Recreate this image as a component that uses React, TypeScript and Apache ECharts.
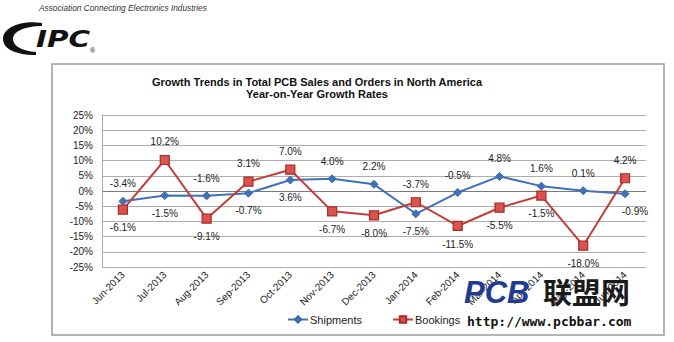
import React, { useEffect, useRef } from "react";
import * as echarts from "echarts";

const categories = [
  "Jun-2013", "Jul-2013", "Aug-2013", "Sep-2013", "Oct-2013", "Nov-2013", "Dec-2013",
  "Jan-2014", "Feb-2014", "Mar-2014", "Apr-2014", "May-2014", "Jun-2014",
];
const shipments = [-3.4, -1.5, -1.6, -0.7, 3.6, 4.0, 2.2, -7.5, -0.5, 4.8, 1.6, 0.1, -0.9];
const bookings = [-6.1, 10.2, -9.1, 3.1, 7.0, -6.7, -8.0, -3.7, -11.5, -5.5, -1.5, -18.0, 4.2];
const shipmentLabelSide = ["top", "bottom", "top", "bottom", "bottom", "top", "top", "bottom", "top", "top", "top", "top", "bottom"];
const bookingLabelSide = ["bottom", "top", "bottom", "top", "top", "bottom", "bottom", "top", "bottom", "bottom", "bottom", "bottom", "top"];
const yTicks = { min: -25, max: 25, interval: 5 };

const SWOOSH = "M42 23 C20 20 3 28 3 39 C3 49 16 55 36 55 L36 52 C22 51 13 46 13 39 C13 31 26 26 42 26 Z";
let registered = false;
function ensureShapes() {
  if (registered) return;
  echarts.graphic.registerShape("ipcSwoosh", (echarts.graphic as any).extendPath(SWOOSH, {}));
  registered = true;
}

const FONT = "Liberation Sans, Arial, sans-serif";

export default function App() {
  const ref = useRef<HTMLDivElement>(null);
  useEffect(() => {
    if (!ref.current) return;
    ensureShapes();
    const chart = echarts.init(ref.current, undefined, { renderer: "svg" });
    const fmt = (v: number) => `${v.toFixed(1)}%`;
    const mk = (vals: number[], sides: string[]) =>
      vals.map((v, i) => ({
        value: v,
        label: {
          position: sides[i],
          offset: i === vals.length - 1 && sides[i] === "bottom" ? [10, 0] : [0, 0],
        },
      }));
    const gridColors = Array.from({ length: 11 }, (_, i) => (i === 5 ? "#7a7a7a" : "#adadad"));
    chart.setOption({
      animation: false,
      backgroundColor: "#ffffff",
      textStyle: { fontFamily: FONT },
      title: {
        text: "Growth Trends in Total PCB Sales and Orders in North America\nYear-on-Year Growth Rates",
        left: 312,
        textAlign: "center",
        top: 71,
        textStyle: { fontFamily: FONT, fontSize: 11, fontWeight: "bold", color: "#111", lineHeight: 12 },
      },
      grid: { left: 102, right: 28, top: 115, bottom: 75, containLabel: false },
      xAxis: {
        type: "category",
        data: categories,
        boundaryGap: true,
        axisLine: { show: false, onZero: false },
        axisTick: { show: false },
        axisLabel: { rotate: 45, fontSize: 10, color: "#222", margin: 6, fontFamily: FONT, interval: 0 },
        splitLine: { show: false },
      },
      yAxis: {
        type: "value",
        min: yTicks.min,
        max: yTicks.max,
        interval: yTicks.interval,
        axisLine: { show: true, lineStyle: { color: "#adadad", width: 1 } },
        axisTick: { show: false },
        axisLabel: { formatter: (v: number) => `${v}%`, fontSize: 10, color: "#222", margin: 9, fontFamily: FONT },
        splitLine: { show: true, lineStyle: { color: gridColors, width: 1.2 } },
      },
      legend: {
        bottom: 12,
        left: 282,
        itemGap: 30,
        itemWidth: 20,
        itemHeight: 8,
        textStyle: { fontSize: 11, color: "#222", fontFamily: FONT, padding: [0, 0, 0, -3] },
        data: ["Shipments", "Bookings"],
      },
      series: [
        {
          name: "Shipments",
          type: "line",
          data: mk(shipments, shipmentLabelSide),
          symbol: "diamond",
          symbolSize: 8,
          z: 3,
          lineStyle: { color: "#3f72b9", width: 2 },
          itemStyle: { color: "#3f72b9", borderColor: "#3a66a8", borderWidth: 1 },
          label: { show: true, formatter: (p: any) => fmt(p.value), fontSize: 10, color: "#222", distance: 8, fontFamily: FONT },
        },
        {
          name: "Bookings",
          type: "line",
          data: mk(bookings, bookingLabelSide),
          symbol: "rect",
          symbolSize: 9,
          z: 4,
          lineStyle: { color: "#c33d38", width: 2 },
          itemStyle: { color: "#d9534f", borderColor: "#a92a26", borderWidth: 1.2 },
          label: { show: true, formatter: (p: any) => fmt(p.value), fontSize: 10, color: "#222", distance: 8, fontFamily: FONT },
        },
      ],
      graphic: [
        {
          type: "rect",
          z: -10,
          shape: { x: 52, y: 64, width: 612, height: 271 },
          style: { fill: "none", stroke: "#9a9a9a", lineWidth: 1.5 },
        },
        {
          type: "text",
          x: 39,
          y: 4,
          style: {
            text: "Association Connecting Electronics Industries",
            font: "italic 8.3px Liberation Sans, Arial, sans-serif",
            fill: "#333",
          },
        },
        {
          type: "ipcSwoosh",
          x: 0,
          y: 0,
          style: { fill: "#111" },
        },
        {
          type: "text",
          x: 36,
          y: 27,
          scaleX: 1.28,
          style: {
            text: "IPC",
            fontSize: 23,
            fontWeight: "900",
            fontStyle: "italic",
            fontFamily: "DejaVu Sans",
            fill: "#111",
          },
        },
        {
          type: "text",
          x: 90,
          y: 47,
          style: { text: "®", fontSize: 7, fontFamily: FONT, fill: "#111" },
        },
        {
          type: "text",
          x: 464,
          y: 277,
          z: 100,
          style: {
            text: "PCB",
            font: "italic bold 31px Liberation Sans, Arial, sans-serif",
            fill: "#1f3c92",
          },
        },
        {
          type: "text",
          x: 543,
          y: 276,
          z: 100,
          style: {
            text: "联盟网",
            font: "bold 29px Noto Sans CJK SC, sans-serif",
            fill: "#1a1a1a",
          },
        },
        {
          type: "text",
          x: 467,
          y: 315,
          z: 100,
          style: {
            text: "http://www.pcbbar.com",
            font: "bold 13px DejaVu Sans Mono, monospace",
            fill: "#111",
          },
        },
      ],
    });
    return () => chart.dispose();
  }, []);
  return (
    <div
      ref={ref}
      style={{ position: "fixed", left: 0, top: 0, width: 674, height: 342, background: "#fff" }}
    />
  );
}
